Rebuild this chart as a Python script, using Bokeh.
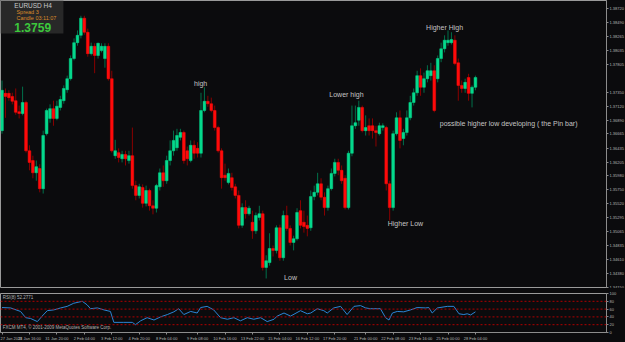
from bokeh.plotting import figure
from bokeh.models import (Range1d, FixedTicker, PrintfTickFormatter, Label,
                          BoxAnnotation, Span, ColumnDataSource)
from bokeh.layouts import column
from bokeh.embed import file_html
from bokeh.resources import INLINE

# ---------------- data (EURUSD H4) ----------------
opens = [1.3672, 1.3733, 1.3733, 1.3728, 1.3721, 1.3703, 1.3700, 1.3718, 1.3639, 1.3623,
         1.3603, 1.3610, 1.3577, 1.3667, 1.3692, 1.3708, 1.3692, 1.3710, 1.3721, 1.3739,
         1.3757, 1.3790, 1.3816, 1.3828, 1.3856, 1.3833, 1.3798, 1.3810, 1.3795, 1.3803,
         1.3790, 1.3810, 1.3757, 1.3631, 1.3636, 1.3626, 1.3633, 1.3623, 1.3631, 1.3582,
         1.3566, 1.3579, 1.3553, 1.3574, 1.3549, 1.3545, 1.3580, 1.3603, 1.3590, 1.3623,
         1.3639, 1.3644, 1.3661, 1.3669, 1.3639, 1.3623, 1.3648, 1.3643, 1.3635, 1.3705,
         1.3720, 1.3716, 1.3705, 1.3677, 1.3639, 1.3599, 1.3587, 1.3595, 1.3580, 1.3566,
         1.3517, 1.3546, 1.3536, 1.3522, 1.3508, 1.3530, 1.3536, 1.3448, 1.3456, 1.3479,
         1.3476, 1.3513, 1.3464, 1.3533, 1.3512, 1.3489, 1.3495, 1.3541, 1.3522, 1.3517,
         1.3513, 1.3564, 1.3571, 1.3585, 1.3563, 1.3546, 1.3577, 1.3602, 1.3620, 1.3607,
         1.3594, 1.3546, 1.3635, 1.3680, 1.3689, 1.3710, 1.3672, 1.3680, 1.3680, 1.3672,
         1.3667, 1.3677, 1.3677, 1.3585, 1.3546, 1.3667, 1.3693, 1.3659, 1.3669, 1.3693,
         1.3718, 1.3734, 1.3762, 1.3743, 1.3757, 1.3762, 1.3770, 1.3757, 1.3790, 1.3806,
         1.3816, 1.3816, 1.3820, 1.3783, 1.3746, 1.3741, 1.3759, 1.3733, 1.3743]
highs = [1.3754, 1.3741, 1.3738, 1.3734, 1.3741, 1.3713, 1.3744, 1.3721, 1.3648, 1.3631,
         1.3623, 1.3617, 1.3672, 1.3708, 1.3715, 1.3721, 1.3721, 1.3729, 1.3746, 1.3762,
         1.3795, 1.3823, 1.3836, 1.3860, 1.3860, 1.3839, 1.3816, 1.3815, 1.3816, 1.3815,
         1.3815, 1.3815, 1.3770, 1.3657, 1.3643, 1.3639, 1.3639, 1.3639, 1.3677, 1.3590,
         1.3585, 1.3584, 1.3582, 1.3577, 1.3558, 1.3585, 1.3610, 1.3615, 1.3631, 1.3656,
         1.3672, 1.3675, 1.3675, 1.3672, 1.3646, 1.3656, 1.3656, 1.3653, 1.3734, 1.3743,
         1.3729, 1.3726, 1.3713, 1.3680, 1.3643, 1.3618, 1.3610, 1.3603, 1.3585, 1.3574,
         1.3553, 1.3558, 1.3549, 1.3541, 1.3538, 1.3549, 1.3541, 1.3468, 1.3504, 1.3484,
         1.3517, 1.3518, 1.3541, 1.3549, 1.3517, 1.3500, 1.3545, 1.3558, 1.3541, 1.3533,
         1.3574, 1.3582, 1.3603, 1.3594, 1.3571, 1.3582, 1.3610, 1.3626, 1.3626, 1.3615,
         1.3599, 1.3639, 1.3713, 1.3713, 1.3721, 1.3713, 1.3697, 1.3692, 1.3692, 1.3680,
         1.3685, 1.3684, 1.3680, 1.3590, 1.3672, 1.3702, 1.3705, 1.3675, 1.3705, 1.3729,
         1.3741, 1.3770, 1.3774, 1.3767, 1.3779, 1.3783, 1.3779, 1.3795, 1.3816, 1.3828,
         1.3836, 1.3833, 1.3828, 1.3790, 1.3754, 1.3757, 1.3765, 1.3746, 1.3762]
lows = [1.3667, 1.3693, 1.3721, 1.3715, 1.3698, 1.3692, 1.3697, 1.3636, 1.3607, 1.3594,
        1.3590, 1.3571, 1.3569, 1.3664, 1.3685, 1.3680, 1.3689, 1.3705, 1.3716, 1.3734,
        1.3754, 1.3787, 1.3811, 1.3823, 1.3829, 1.3793, 1.3795, 1.3766, 1.3790, 1.3800,
        1.3775, 1.3754, 1.3636, 1.3626, 1.3620, 1.3620, 1.3615, 1.3618, 1.3577, 1.3558,
        1.3561, 1.3546, 1.3548, 1.3541, 1.3535, 1.3538, 1.3574, 1.3580, 1.3585, 1.3615,
        1.3631, 1.3639, 1.3656, 1.3618, 1.3615, 1.3620, 1.3626, 1.3628, 1.3628, 1.3702,
        1.3711, 1.3702, 1.3672, 1.3636, 1.3577, 1.3590, 1.3584, 1.3574, 1.3561, 1.3512,
        1.3513, 1.3528, 1.3533, 1.3495, 1.3503, 1.3525, 1.3443, 1.3430, 1.3451, 1.3466,
        1.3471, 1.3459, 1.3459, 1.3508, 1.3484, 1.3476, 1.3492, 1.3512, 1.3505, 1.3499,
        1.3508, 1.3558, 1.3566, 1.3558, 1.3533, 1.3541, 1.3574, 1.3597, 1.3599, 1.3585,
        1.3543, 1.3543, 1.3630, 1.3675, 1.3680, 1.3669, 1.3664, 1.3664, 1.3659, 1.3646,
        1.3664, 1.3672, 1.3574, 1.3525, 1.3541, 1.3664, 1.3643, 1.3648, 1.3664, 1.3689,
        1.3713, 1.3729, 1.3729, 1.3734, 1.3751, 1.3754, 1.3702, 1.3751, 1.3784, 1.3800,
        1.3811, 1.3813, 1.3779, 1.3721, 1.3734, 1.3734, 1.3721, 1.3710, 1.3738]
closes = [1.3738, 1.3728, 1.3726, 1.3720, 1.3702, 1.3700, 1.3718, 1.3639, 1.3620, 1.3603,
          1.3613, 1.3577, 1.3664, 1.3705, 1.3708, 1.3692, 1.3712, 1.3723, 1.3741, 1.3757,
          1.3790, 1.3816, 1.3828, 1.3856, 1.3833, 1.3798, 1.3810, 1.3795, 1.3815, 1.3810,
          1.3810, 1.3757, 1.3639, 1.3639, 1.3628, 1.3633, 1.3626, 1.3631, 1.3582, 1.3566,
          1.3580, 1.3553, 1.3574, 1.3549, 1.3545, 1.3582, 1.3603, 1.3590, 1.3623, 1.3639,
          1.3656, 1.3664, 1.3669, 1.3623, 1.3626, 1.3648, 1.3635, 1.3635, 1.3705, 1.3720,
          1.3716, 1.3705, 1.3677, 1.3639, 1.3595, 1.3595, 1.3602, 1.3579, 1.3566, 1.3517,
          1.3546, 1.3536, 1.3545, 1.3508, 1.3533, 1.3536, 1.3448, 1.3459, 1.3479, 1.3476,
          1.3513, 1.3464, 1.3533, 1.3512, 1.3489, 1.3495, 1.3538, 1.3517, 1.3515, 1.3512,
          1.3564, 1.3571, 1.3585, 1.3563, 1.3546, 1.3577, 1.3602, 1.3620, 1.3607, 1.3590,
          1.3546, 1.3635, 1.3680, 1.3685, 1.3710, 1.3672, 1.3677, 1.3672, 1.3672, 1.3669,
          1.3680, 1.3680, 1.3585, 1.3546, 1.3667, 1.3693, 1.3656, 1.3669, 1.3693, 1.3718,
          1.3734, 1.3762, 1.3743, 1.3757, 1.3770, 1.3770, 1.3705, 1.3790, 1.3806, 1.3820,
          1.3820, 1.3821, 1.3782, 1.3746, 1.3741, 1.3751, 1.3733, 1.3743, 1.3759]

price_ticks = [1.38720, 1.38490, 1.38265, 1.38035, 1.37805, 1.37350, 1.37120, 1.36890,
               1.36665, 1.36435, 1.36205, 1.35980, 1.35750, 1.35520, 1.35295, 1.35065,
               1.34835, 1.34610, 1.34380, 1.34150]
current_price = 1.37590

rsi_x = [0, 2.5, 5.4, 6.9, 8.3, 10.3, 11.7, 13.2, 15.1, 17.1, 19.0, 20.9, 23.4, 24.8, 25.8,
         27.8, 29.7, 31.6, 32.6, 35.5, 38.0, 38.9, 40.4, 42.3, 44.3, 46.2, 48.2, 50.1, 51.5,
         53.0, 55.0, 56.9, 57.9, 59.8, 61.7, 63.7, 65.7, 67.6, 69.5, 71.5, 73.4, 75.4, 77.3,
         79.3, 80.2, 82.2, 84.1, 87.0, 89.0, 90.0, 91.9, 93.8, 94.8, 96.7, 98.7, 100.6, 102.6,
         104.5, 106.0, 107.4, 110.3, 111.8, 112.8, 113.8, 115.2, 117.1, 119.1, 121.0, 123.5,
         124.4, 125.4, 126.9, 129.8, 131.7, 133.2, 134.6, 135.6, 136.6, 138.0]
rsi_v = [64, 63, 54, 38, 36, 28, 42, 56, 58, 63, 67, 75, 80, 71, 61, 63, 58, 54, 26, 26,
         26, 20, 30, 38, 32, 40, 46, 53, 61, 46, 54, 50, 64, 67, 58, 38, 34, 38, 30, 38,
         34, 38, 28, 34, 42, 50, 42, 56, 48, 50, 61, 56, 50, 63, 67, 46, 67, 69, 63, 61,
         61, 38, 32, 50, 54, 53, 58, 64, 63, 64, 50, 63, 67, 67, 48, 46, 48, 45, 53]
rsi_levels = [80, 60, 40, 20]
rsi_ticks = [0, 20, 40, 60, 80, 100]

time_ticks = [0, 8, 16, 24, 32, 40, 48, 57, 65, 73, 81, 89, 97, 106, 114, 122, 130, 138]
time_labels = ["27 Jan 2011", "28 Jan 16:00", "31 Jan 20:00", "2 Feb 04:00", "3 Feb 12:00",
               "4 Feb 20:00", "8 Feb 04:00", "9 Feb 08:00", "10 Feb 16:00", "13 Feb 22:00",
               "15 Feb 04:00", "16 Feb 12:00", "17 Feb 20:00", "21 Feb 00:00", "22 Feb 08:00",
               "23 Feb 16:00", "25 Feb 00:00", "28 Feb 04:00"]

# ---------------- styling ----------------
BG = "#0b0b0d"
UP = "#05d98c"
DOWN = "#ff0a0a"
UP_WICK = "#00704a"
DOWN_WICK = "#8a0000"
AX = "#8c8c8c"
TXT = "#b4b4b4"
FONT = "Liberation Sans"
FW = 606
TICK_FS = "4px"

idx = list(range(len(opens)))
up = [c >= o for o, c in zip(opens, closes)]
src = ColumnDataSource(dict(
    x=idx, o=opens, h=highs, l=lows, c=closes,
    top=[max(o, c) for o, c in zip(opens, closes)],
    bot=[min(o, c) for o, c in zip(opens, closes)],
    body=[UP if u else DOWN for u in up],
    wick=[UP_WICK if u else DOWN_WICK for u in up],
))

xr = Range1d(-0.44, 176.2)


def style_axis(ax):
    ax.major_label_text_font_size = TICK_FS
    ax.major_label_text_color = TXT
    ax.major_label_text_font = FONT
    ax.major_tick_out = 2
    ax.major_tick_in = 0
    ax.minor_tick_out = 0
    ax.minor_tick_in = 0
    ax.major_tick_line_color = AX
    ax.axis_line_color = AX
    ax.major_label_standoff = 1


p1 = figure(frame_width=FW, frame_height=288, x_range=xr,
            y_range=Range1d(1.34136, 1.3885),
            output_backend="svg", toolbar_location=None,
            background_fill_color=BG, border_fill_color=BG,
            min_border_left=0, min_border_top=0, min_border_bottom=0,
            min_border_right=625 - FW,
            x_axis_location=None, y_axis_location="right")
p1.grid.visible = False
p1.outline_line_color = "#9a9a9a"

p1.segment(x0="x", y0="l", x1="x", y1="h", color="wick", line_width=1, source=src)
p1.vbar(x="x", top="top", bottom="bot", width=0.8, fill_color="body",
        line_color="body", line_width=0.5, source=src)

ya = p1.yaxis[0]
ya.ticker = FixedTicker(ticks=price_ticks)
ya.formatter = PrintfTickFormatter(format="%.5f")
style_axis(ya)

# current price tag on the price scale
p1.add_layout(Label(x=FW + 2, x_units="screen", y=current_price,
                    text="%.5f" % current_price,
                    text_font_size=TICK_FS, text_color="#000000", text_font=FONT,
                    text_baseline="middle", background_fill_color="#b4b4b4"))

# info box
p1.add_layout(BoxAnnotation(left=-0.44, right=17.9, top=1.3885, bottom=1.3831,
                            fill_color="#2b2b2b", fill_alpha=0.9, line_color=None))
p1.add_layout(Label(x=3.6, y=1.3876, text="EURUSD  H4", text_font_size="6.5px",
                    text_color="#c8c8c8", text_font=FONT, text_baseline="middle"))
p1.add_layout(Label(x=4.2, y=1.3866, text="Spread  3", text_font_size="5.5px",
                    text_color="#d98a2a", text_font=FONT, text_baseline="middle"))
p1.add_layout(Label(x=4.2, y=1.3856, text="Candle  03:11:07", text_font_size="5.5px",
                    text_color="#d98a2a", text_font=FONT, text_baseline="middle"))
p1.add_layout(Label(x=3.6, y=1.3841, text="1.3759", text_font_size="12px",
                    text_font_style="bold", text_color="#3cc83c", text_font=FONT,
                    text_baseline="middle"))

# annotations
notes = [("high", 57.9, 1.3749, "center"),
         ("Lower high", 100.4, 1.3731, "center"),
         ("Low", 84.1, 1.3432, "center"),
         ("Higher Low", 117.6, 1.3520, "center"),
         ("Higher High", 129.0, 1.3841, "center"),
         ("possible higher low developing  ( the Pin bar)", 127.6, 1.3684, "left")]
for t, x, y, al in notes:
    p1.add_layout(Label(x=x, y=y, text=t, text_font_size="7px", text_color="#c4c4c4",
                        text_font=FONT, text_align=al, text_baseline="middle"))

# ---------------- RSI panel ----------------
p2 = figure(frame_width=FW, frame_height=39, x_range=xr, y_range=Range1d(0, 100),
            output_backend="svg", toolbar_location=None,
            background_fill_color=BG, border_fill_color=BG,
            min_border_left=0, min_border_top=5, min_border_bottom=0,
            min_border_right=625 - FW,
            y_axis_location="right")
p2.grid.visible = False
p2.outline_line_color = "#9a9a9a"
for lv in rsi_levels:
    p2.add_layout(Span(location=lv, dimension="width", line_color="#b00000",
                       line_dash="2 2", line_width=1))
p2.line(rsi_x, rsi_v, line_color="#2a86d6", line_width=1)

ry = p2.yaxis[0]
ry.ticker = FixedTicker(ticks=rsi_ticks)
style_axis(ry)

rx = p2.xaxis[0]
rx.ticker = FixedTicker(ticks=time_ticks)
rx.major_label_overrides = {t: s for t, s in zip(time_ticks, time_labels)}
rx.major_label_text_align = "left"
style_axis(rx)

p2.add_layout(Label(x=0.2, y=89, text="RSI(8) 52.2771", text_font_size="4.5px",
                    text_color=TXT, text_font=FONT, text_baseline="middle"))
p2.add_layout(Label(x=0.2, y=12, text="FXCM MT4, \u00a9 2001-2009 MetaQuotes Software Corp.",
                    text_font_size="4.5px", text_color=TXT, text_font=FONT,
                    text_baseline="middle"))

layout = column(p1, p2, spacing=0)
layout.styles = {"background-color": BG}
open("out.html", "w").write(file_html(layout, INLINE))
